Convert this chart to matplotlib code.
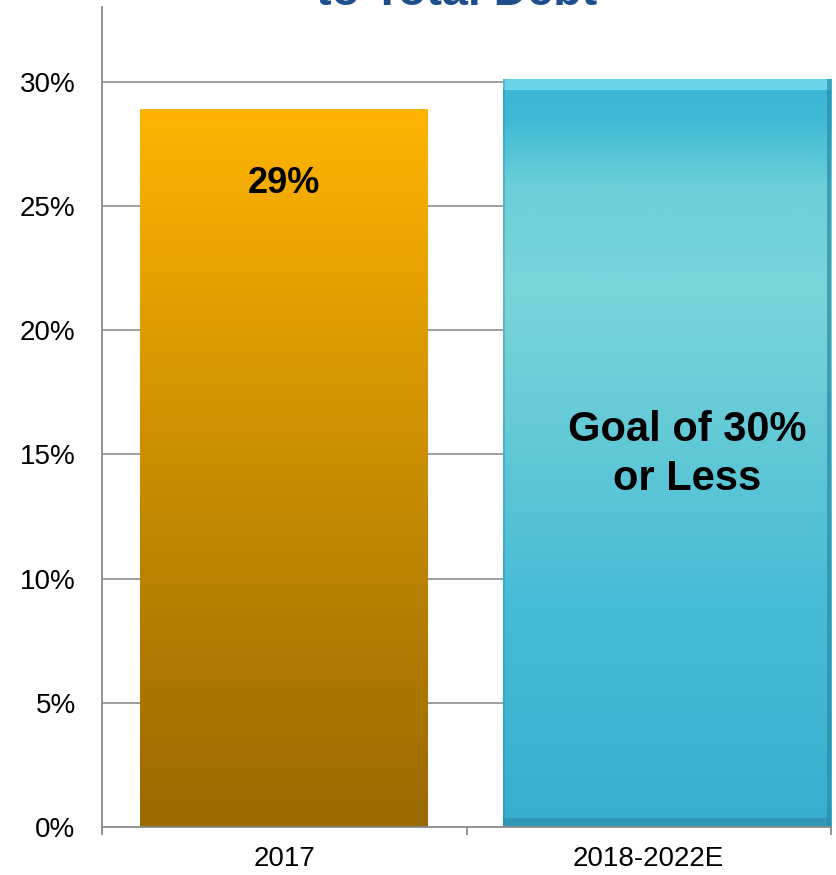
import numpy as np
import matplotlib
matplotlib.use("Agg")
import matplotlib.pyplot as plt
from matplotlib.colors import LinearSegmentedColormap
from matplotlib.patches import Rectangle

plt.rcParams['font.family'] = ['Liberation Sans', 'DejaVu Sans']

categories = ["2017", "2018-2022E"]
values = [28.9, 30.1]
bar_labels = ["29%", "Goal of 30%\nor Less"]
yticks = [0, 5, 10, 15, 20, 25, 30]
ytick_labels = ["0%", "5%", "10%", "15%", "20%", "25%", "30%"]
title = "to Total Debt"

fig = plt.figure(figsize=(8.36, 8.75), dpi=100)
ax = fig.add_axes([102/836, 48/875, 729/836, 820/875])
ax.set_xlim(-0.5, 1.5)
ax.set_ylim(0, 33.0)

# gridlines
for t in yticks[1:]:
    ax.axhline(t, color="#8f8f8f", lw=1.2, zorder=0.5)

x_pos = [0, 1.05]
widths = [0.79, 0.90]

# Bar 1: orange-brown vertical gradient
cmap1 = LinearSegmentedColormap.from_list("o", ["#9A6900", "#C98D00", "#FFB400"])
b1 = ax.bar(x_pos[0], values[0], width=widths[0], color="none", zorder=2)[0]
grad = np.linspace(0, 1, 256).reshape(-1, 1)
im = ax.imshow(grad, cmap=cmap1, origin="lower", aspect="auto",
               extent=[x_pos[0]-widths[0]/2, x_pos[0]+widths[0]/2, 0, values[0]], zorder=2)
im.set_clip_path(b1)

# Bar 2: cyan bevelled shape with shadow
x0 = x_pos[1]-widths[1]/2
shadow = Rectangle((x0+0.008, -0.35), widths[1], values[1], facecolor="#000000",
                   alpha=0.12, edgecolor="none", zorder=1.8)
ax.add_patch(shadow)
cmap2 = LinearSegmentedColormap.from_list(
    "c", [(0.0, "#37AECF"), (0.3, "#47BCD6"), (0.55, "#66CBD7"), (0.72, "#7AD5D8"),
          (0.86, "#6ACFD8"), (0.95, "#3EB9D6"), (1.0, "#3AB6D5")])
b2 = ax.bar(x_pos[1], values[1], width=widths[1], color="none", zorder=2)[0]
im2 = ax.imshow(grad, cmap=cmap2, origin="lower", aspect="auto",
                extent=[x0, x0+widths[1], 0, values[1]], zorder=2)
im2.set_clip_path(b2)
# bevel highlights
ax.add_patch(Rectangle((x0, values[1]-0.45), widths[1], 0.45, facecolor="#7FE3F4",
                       alpha=0.7, edgecolor="none", zorder=2.1))
ax.add_patch(Rectangle((x0+widths[1]-0.012, 0), 0.012, values[1], facecolor="#2C8AA6",
                       alpha=0.7, edgecolor="none", zorder=2.1))
ax.add_patch(Rectangle((x0, 0), widths[1], 0.35, facecolor="#2C8AA6",
                       alpha=0.6, edgecolor="none", zorder=2.1))
ax.add_patch(Rectangle((x0, 0), 0.006, values[1], facecolor="#2C8AA6",
                       alpha=0.4, edgecolor="none", zorder=2.1))

# labels in bars
ax.text(x_pos[0], 25.9, bar_labels[0], ha="center", va="center", fontsize=26,
        fontweight="bold", color="black", zorder=3)
ax.text(1.106, 15.0, bar_labels[1], ha="center", va="center", fontsize=30,
        fontweight="bold", color="black", zorder=3, linespacing=1.3)

# axes styling
for s in ["top", "right"]:
    ax.spines[s].set_visible(False)
for s in ["left", "bottom"]:
    ax.spines[s].set_color("#8a8a8a")
    ax.spines[s].set_linewidth(1.3)
ax.spines["bottom"].set_zorder(4)

ax.set_yticks(yticks)
ax.set_yticklabels(ytick_labels, fontsize=20)
ax.tick_params(axis="y", length=0, pad=19)

ax.set_xticks([-0.5, 0.5, 1.5])
ax.set_xticklabels([])
ax.tick_params(axis="x", which="major", length=6, width=1.3, color="#8a8a8a", direction="out")
ax.set_xticks([0, 1], minor=True)
ax.set_xticklabels(categories, minor=True, fontsize=20)
ax.tick_params(axis="x", which="minor", length=0, pad=14)

fig.text(457/836, 1 - 5/875, title, ha="center", va="baseline", fontsize=33.5,
         fontweight="bold", color="#1F4E8C")

fig.savefig("out.png", dpi=100)
